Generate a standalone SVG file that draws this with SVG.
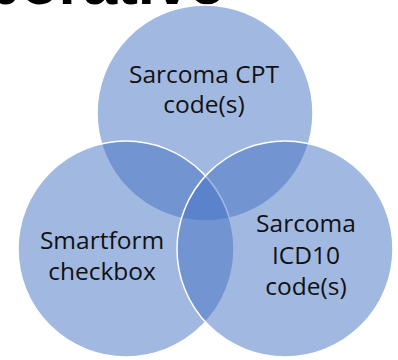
<svg xmlns="http://www.w3.org/2000/svg" width="398" height="360" viewBox="0 0 398 360">
<style>
.c{fill:#4472C4;fill-opacity:0.5;stroke:#ffffff;stroke-width:1.5}
.t{font-family:"Open Sans","Liberation Sans",sans-serif;font-size:24.5px;fill:#111111;text-anchor:middle}
.title{font-family:"Liberation Sans",sans-serif;font-size:62px;font-weight:bold;fill:#000000;text-anchor:end}
</style>
<rect width="398" height="360" fill="#ffffff"/>
<text class="title" x="224" y="4">Collaborative</text>
<g id="nodes">
<g id="cpt"><circle class="c" cx="205" cy="113" r="108"/></g>
<g id="smartform"><circle class="c" cx="126" cy="249" r="108"/></g>
<g id="icd10"><circle class="c" cx="285" cy="249" r="108"/></g>
</g>
<g id="connectors"></g>
<g id="labels">
<text class="t" x="204" y="83">Sarcoma CPT</text>
<text class="t" x="204" y="113">code(s)</text>
<text class="t" x="102" y="249">Smartform</text>
<text class="t" x="102" y="280">checkbox</text>
<text class="t" x="306" y="232">Sarcoma</text>
<text class="t" x="306" y="264">ICD10</text>
<text class="t" x="306" y="295">code(s)</text>
</g>
</svg>
